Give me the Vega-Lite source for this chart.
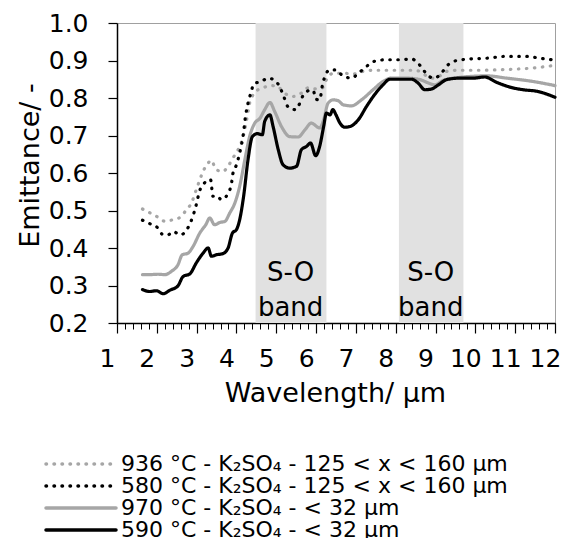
{
  "$schema": "https://vega.github.io/schema/vega-lite/v6.json",
  "autosize": "none",
  "width": 438,
  "height": 300,
  "padding": {"left": 117, "top": 23, "right": 10, "bottom": 215},
  "background": "white",
  "config": {
    "view": {"stroke": "#a0a0a0", "strokeWidth": 1},
    "font": "DejaVu Sans",
    "axis": {"grid": false, "domainColor": "#000", "tickColor": "#000", "labelColor": "#000", "titleColor": "#000", "labelFont": "DejaVu Sans", "titleFont": "DejaVu Sans", "titleFontWeight": "normal"},
    "legend": {"labelFont": "DejaVu Sans"}
  },
  "datasets": {
    "spectra": [
      {"s": "936 °C - K₂SO₄ - 125 < x < 160 µm", "x": 1.64, "y": 0.504},
      {"s": "936 °C - K₂SO₄ - 125 < x < 160 µm", "x": 1.84, "y": 0.493},
      {"s": "936 °C - K₂SO₄ - 125 < x < 160 µm", "x": 2.03, "y": 0.482},
      {"s": "936 °C - K₂SO₄ - 125 < x < 160 µm", "x": 2.21, "y": 0.471},
      {"s": "936 °C - K₂SO₄ - 125 < x < 160 µm", "x": 2.39, "y": 0.475},
      {"s": "936 °C - K₂SO₄ - 125 < x < 160 µm", "x": 2.59, "y": 0.482},
      {"s": "936 °C - K₂SO₄ - 125 < x < 160 µm", "x": 2.73, "y": 0.5},
      {"s": "936 °C - K₂SO₄ - 125 < x < 160 µm", "x": 2.87, "y": 0.52},
      {"s": "936 °C - K₂SO₄ - 125 < x < 160 µm", "x": 2.99, "y": 0.555},
      {"s": "936 °C - K₂SO₄ - 125 < x < 160 µm", "x": 3.08, "y": 0.582},
      {"s": "936 °C - K₂SO₄ - 125 < x < 160 µm", "x": 3.16, "y": 0.604},
      {"s": "936 °C - K₂SO₄ - 125 < x < 160 µm", "x": 3.26, "y": 0.622},
      {"s": "936 °C - K₂SO₄ - 125 < x < 160 µm", "x": 3.37, "y": 0.634},
      {"s": "936 °C - K₂SO₄ - 125 < x < 160 µm", "x": 3.48, "y": 0.61},
      {"s": "936 °C - K₂SO₄ - 125 < x < 160 µm", "x": 3.65, "y": 0.604},
      {"s": "936 °C - K₂SO₄ - 125 < x < 160 µm", "x": 3.79, "y": 0.618},
      {"s": "936 °C - K₂SO₄ - 125 < x < 160 µm", "x": 3.91, "y": 0.64},
      {"s": "936 °C - K₂SO₄ - 125 < x < 160 µm", "x": 4.04, "y": 0.662},
      {"s": "936 °C - K₂SO₄ - 125 < x < 160 µm", "x": 4.17, "y": 0.698},
      {"s": "936 °C - K₂SO₄ - 125 < x < 160 µm", "x": 4.25, "y": 0.738},
      {"s": "936 °C - K₂SO₄ - 125 < x < 160 µm", "x": 4.33, "y": 0.786},
      {"s": "936 °C - K₂SO₄ - 125 < x < 160 µm", "x": 4.42, "y": 0.809},
      {"s": "936 °C - K₂SO₄ - 125 < x < 160 µm", "x": 4.54, "y": 0.822},
      {"s": "936 °C - K₂SO₄ - 125 < x < 160 µm", "x": 4.71, "y": 0.829},
      {"s": "936 °C - K₂SO₄ - 125 < x < 160 µm", "x": 4.88, "y": 0.833},
      {"s": "936 °C - K₂SO₄ - 125 < x < 160 µm", "x": 5.05, "y": 0.829},
      {"s": "936 °C - K₂SO₄ - 125 < x < 160 µm", "x": 5.21, "y": 0.813},
      {"s": "936 °C - K₂SO₄ - 125 < x < 160 µm", "x": 5.42, "y": 0.804},
      {"s": "936 °C - K₂SO₄ - 125 < x < 160 µm", "x": 5.63, "y": 0.813},
      {"s": "936 °C - K₂SO₄ - 125 < x < 160 µm", "x": 5.8, "y": 0.827},
      {"s": "936 °C - K₂SO₄ - 125 < x < 160 µm", "x": 6.01, "y": 0.824},
      {"s": "936 °C - K₂SO₄ - 125 < x < 160 µm", "x": 6.16, "y": 0.827},
      {"s": "936 °C - K₂SO₄ - 125 < x < 160 µm", "x": 6.26, "y": 0.849},
      {"s": "936 °C - K₂SO₄ - 125 < x < 160 µm", "x": 6.43, "y": 0.866},
      {"s": "936 °C - K₂SO₄ - 125 < x < 160 µm", "x": 6.68, "y": 0.866},
      {"s": "936 °C - K₂SO₄ - 125 < x < 160 µm", "x": 6.93, "y": 0.864},
      {"s": "936 °C - K₂SO₄ - 125 < x < 160 µm", "x": 7.18, "y": 0.871},
      {"s": "936 °C - K₂SO₄ - 125 < x < 160 µm", "x": 7.43, "y": 0.874},
      {"s": "936 °C - K₂SO₄ - 125 < x < 160 µm", "x": 7.77, "y": 0.874},
      {"s": "936 °C - K₂SO₄ - 125 < x < 160 µm", "x": 8.1, "y": 0.874},
      {"s": "936 °C - K₂SO₄ - 125 < x < 160 µm", "x": 8.44, "y": 0.874},
      {"s": "936 °C - K₂SO₄ - 125 < x < 160 µm", "x": 8.61, "y": 0.871},
      {"s": "936 °C - K₂SO₄ - 125 < x < 160 µm", "x": 8.77, "y": 0.859},
      {"s": "936 °C - K₂SO₄ - 125 < x < 160 µm", "x": 8.94, "y": 0.853},
      {"s": "936 °C - K₂SO₄ - 125 < x < 160 µm", "x": 9.11, "y": 0.859},
      {"s": "936 °C - K₂SO₄ - 125 < x < 160 µm", "x": 9.28, "y": 0.871},
      {"s": "936 °C - K₂SO₄ - 125 < x < 160 µm", "x": 9.61, "y": 0.874},
      {"s": "936 °C - K₂SO₄ - 125 < x < 160 µm", "x": 10.11, "y": 0.874},
      {"s": "936 °C - K₂SO₄ - 125 < x < 160 µm", "x": 10.78, "y": 0.876},
      {"s": "936 °C - K₂SO₄ - 125 < x < 160 µm", "x": 11.45, "y": 0.88},
      {"s": "936 °C - K₂SO₄ - 125 < x < 160 µm", "x": 12.0, "y": 0.887},

      {"s": "580 °C - K₂SO₄ - 125 < x < 160 µm", "x": 1.64, "y": 0.474},
      {"s": "580 °C - K₂SO₄ - 125 < x < 160 µm", "x": 1.82, "y": 0.465},
      {"s": "580 °C - K₂SO₄ - 125 < x < 160 µm", "x": 2.03, "y": 0.453},
      {"s": "580 °C - K₂SO₄ - 125 < x < 160 µm", "x": 2.16, "y": 0.435},
      {"s": "580 °C - K₂SO₄ - 125 < x < 160 µm", "x": 2.28, "y": 0.435},
      {"s": "580 °C - K₂SO₄ - 125 < x < 160 µm", "x": 2.41, "y": 0.444},
      {"s": "580 °C - K₂SO₄ - 125 < x < 160 µm", "x": 2.59, "y": 0.435},
      {"s": "580 °C - K₂SO₄ - 125 < x < 160 µm", "x": 2.76, "y": 0.45},
      {"s": "580 °C - K₂SO₄ - 125 < x < 160 µm", "x": 2.89, "y": 0.48},
      {"s": "580 °C - K₂SO₄ - 125 < x < 160 µm", "x": 2.98, "y": 0.511},
      {"s": "580 °C - K₂SO₄ - 125 < x < 160 µm", "x": 3.08, "y": 0.554},
      {"s": "580 °C - K₂SO₄ - 125 < x < 160 µm", "x": 3.18, "y": 0.571},
      {"s": "580 °C - K₂SO₄ - 125 < x < 160 µm", "x": 3.29, "y": 0.582},
      {"s": "580 °C - K₂SO₄ - 125 < x < 160 µm", "x": 3.35, "y": 0.582},
      {"s": "580 °C - K₂SO₄ - 125 < x < 160 µm", "x": 3.41, "y": 0.538},
      {"s": "580 °C - K₂SO₄ - 125 < x < 160 µm", "x": 3.51, "y": 0.539},
      {"s": "580 °C - K₂SO₄ - 125 < x < 160 µm", "x": 3.62, "y": 0.529},
      {"s": "580 °C - K₂SO₄ - 125 < x < 160 µm", "x": 3.73, "y": 0.536},
      {"s": "580 °C - K₂SO₄ - 125 < x < 160 µm", "x": 3.87, "y": 0.569},
      {"s": "580 °C - K₂SO₄ - 125 < x < 160 µm", "x": 3.91, "y": 0.598},
      {"s": "580 °C - K₂SO₄ - 125 < x < 160 µm", "x": 4.0, "y": 0.622},
      {"s": "580 °C - K₂SO₄ - 125 < x < 160 µm", "x": 4.08, "y": 0.653},
      {"s": "580 °C - K₂SO₄ - 125 < x < 160 µm", "x": 4.17, "y": 0.702},
      {"s": "580 °C - K₂SO₄ - 125 < x < 160 µm", "x": 4.23, "y": 0.753},
      {"s": "580 °C - K₂SO₄ - 125 < x < 160 µm", "x": 4.29, "y": 0.786},
      {"s": "580 °C - K₂SO₄ - 125 < x < 160 µm", "x": 4.38, "y": 0.82},
      {"s": "580 °C - K₂SO₄ - 125 < x < 160 µm", "x": 4.43, "y": 0.838},
      {"s": "580 °C - K₂SO₄ - 125 < x < 160 µm", "x": 4.63, "y": 0.844},
      {"s": "580 °C - K₂SO₄ - 125 < x < 160 µm", "x": 4.79, "y": 0.853},
      {"s": "580 °C - K₂SO₄ - 125 < x < 160 µm", "x": 4.96, "y": 0.847},
      {"s": "580 °C - K₂SO₄ - 125 < x < 160 µm", "x": 5.09, "y": 0.829},
      {"s": "580 °C - K₂SO₄ - 125 < x < 160 µm", "x": 5.17, "y": 0.809},
      {"s": "580 °C - K₂SO₄ - 125 < x < 160 µm", "x": 5.3, "y": 0.776},
      {"s": "580 °C - K₂SO₄ - 125 < x < 160 µm", "x": 5.49, "y": 0.769},
      {"s": "580 °C - K₂SO₄ - 125 < x < 160 µm", "x": 5.59, "y": 0.786},
      {"s": "580 °C - K₂SO₄ - 125 < x < 160 µm", "x": 5.67, "y": 0.806},
      {"s": "580 °C - K₂SO₄ - 125 < x < 160 µm", "x": 5.84, "y": 0.82},
      {"s": "580 °C - K₂SO₄ - 125 < x < 160 µm", "x": 5.93, "y": 0.82},
      {"s": "580 °C - K₂SO₄ - 125 < x < 160 µm", "x": 5.99, "y": 0.797},
      {"s": "580 °C - K₂SO₄ - 125 < x < 160 µm", "x": 6.09, "y": 0.795},
      {"s": "580 °C - K₂SO₄ - 125 < x < 160 µm", "x": 6.16, "y": 0.835},
      {"s": "580 °C - K₂SO₄ - 125 < x < 160 µm", "x": 6.24, "y": 0.862},
      {"s": "580 °C - K₂SO₄ - 125 < x < 160 µm", "x": 6.34, "y": 0.875},
      {"s": "580 °C - K₂SO₄ - 125 < x < 160 µm", "x": 6.5, "y": 0.875},
      {"s": "580 °C - K₂SO₄ - 125 < x < 160 µm", "x": 6.64, "y": 0.862},
      {"s": "580 °C - K₂SO₄ - 125 < x < 160 µm", "x": 6.89, "y": 0.853},
      {"s": "580 °C - K₂SO₄ - 125 < x < 160 µm", "x": 7.06, "y": 0.866},
      {"s": "580 °C - K₂SO₄ - 125 < x < 160 µm", "x": 7.22, "y": 0.88},
      {"s": "580 °C - K₂SO₄ - 125 < x < 160 µm", "x": 7.47, "y": 0.898},
      {"s": "580 °C - K₂SO₄ - 125 < x < 160 µm", "x": 7.77, "y": 0.902},
      {"s": "580 °C - K₂SO₄ - 125 < x < 160 µm", "x": 8.1, "y": 0.902},
      {"s": "580 °C - K₂SO₄ - 125 < x < 160 µm", "x": 8.4, "y": 0.904},
      {"s": "580 °C - K₂SO₄ - 125 < x < 160 µm", "x": 8.56, "y": 0.893},
      {"s": "580 °C - K₂SO₄ - 125 < x < 160 µm", "x": 8.69, "y": 0.875},
      {"s": "580 °C - K₂SO₄ - 125 < x < 160 µm", "x": 8.86, "y": 0.856},
      {"s": "580 °C - K₂SO₄ - 125 < x < 160 µm", "x": 8.98, "y": 0.853},
      {"s": "580 °C - K₂SO₄ - 125 < x < 160 µm", "x": 9.11, "y": 0.862},
      {"s": "580 °C - K₂SO₄ - 125 < x < 160 µm", "x": 9.32, "y": 0.889},
      {"s": "580 °C - K₂SO₄ - 125 < x < 160 µm", "x": 9.53, "y": 0.9},
      {"s": "580 °C - K₂SO₄ - 125 < x < 160 µm", "x": 9.86, "y": 0.904},
      {"s": "580 °C - K₂SO₄ - 125 < x < 160 µm", "x": 10.28, "y": 0.906},
      {"s": "580 °C - K₂SO₄ - 125 < x < 160 µm", "x": 10.78, "y": 0.911},
      {"s": "580 °C - K₂SO₄ - 125 < x < 160 µm", "x": 11.29, "y": 0.911},
      {"s": "580 °C - K₂SO₄ - 125 < x < 160 µm", "x": 11.62, "y": 0.906},
      {"s": "580 °C - K₂SO₄ - 125 < x < 160 µm", "x": 12.0, "y": 0.901},

      {"s": "970 °C - K₂SO₄ - < 32 µm", "x": 1.64, "y": 0.329},
      {"s": "970 °C - K₂SO₄ - < 32 µm", "x": 1.82, "y": 0.329},
      {"s": "970 °C - K₂SO₄ - < 32 µm", "x": 2.03, "y": 0.33},
      {"s": "970 °C - K₂SO₄ - < 32 µm", "x": 2.2, "y": 0.329},
      {"s": "970 °C - K₂SO₄ - < 32 µm", "x": 2.37, "y": 0.338},
      {"s": "970 °C - K₂SO₄ - < 32 µm", "x": 2.53, "y": 0.355},
      {"s": "970 °C - K₂SO₄ - < 32 µm", "x": 2.64, "y": 0.382},
      {"s": "970 °C - K₂SO₄ - < 32 µm", "x": 2.78, "y": 0.386},
      {"s": "970 °C - K₂SO₄ - < 32 µm", "x": 2.91, "y": 0.404},
      {"s": "970 °C - K₂SO₄ - < 32 µm", "x": 3.08, "y": 0.44},
      {"s": "970 °C - K₂SO₄ - < 32 µm", "x": 3.23, "y": 0.462},
      {"s": "970 °C - K₂SO₄ - < 32 µm", "x": 3.33, "y": 0.48},
      {"s": "970 °C - K₂SO₄ - < 32 µm", "x": 3.45, "y": 0.462},
      {"s": "970 °C - K₂SO₄ - < 32 µm", "x": 3.58, "y": 0.468},
      {"s": "970 °C - K₂SO₄ - < 32 µm", "x": 3.71, "y": 0.471},
      {"s": "970 °C - K₂SO₄ - < 32 µm", "x": 3.83, "y": 0.493},
      {"s": "970 °C - K₂SO₄ - < 32 µm", "x": 3.96, "y": 0.52},
      {"s": "970 °C - K₂SO₄ - < 32 µm", "x": 4.08, "y": 0.564},
      {"s": "970 °C - K₂SO₄ - < 32 µm", "x": 4.21, "y": 0.635},
      {"s": "970 °C - K₂SO₄ - < 32 µm", "x": 4.33, "y": 0.697},
      {"s": "970 °C - K₂SO₄ - < 32 µm", "x": 4.46, "y": 0.733},
      {"s": "970 °C - K₂SO₄ - < 32 µm", "x": 4.59, "y": 0.746},
      {"s": "970 °C - K₂SO₄ - < 32 µm", "x": 4.71, "y": 0.769},
      {"s": "970 °C - K₂SO₄ - < 32 µm", "x": 4.84, "y": 0.788},
      {"s": "970 °C - K₂SO₄ - < 32 µm", "x": 4.96, "y": 0.764},
      {"s": "970 °C - K₂SO₄ - < 32 µm", "x": 5.13, "y": 0.724},
      {"s": "970 °C - K₂SO₄ - < 32 µm", "x": 5.34, "y": 0.697},
      {"s": "970 °C - K₂SO₄ - < 32 µm", "x": 5.55, "y": 0.696},
      {"s": "970 °C - K₂SO₄ - < 32 µm", "x": 5.72, "y": 0.715},
      {"s": "970 °C - K₂SO₄ - < 32 µm", "x": 5.88, "y": 0.733},
      {"s": "970 °C - K₂SO₄ - < 32 µm", "x": 6.09, "y": 0.72},
      {"s": "970 °C - K₂SO₄ - < 32 µm", "x": 6.19, "y": 0.742},
      {"s": "970 °C - K₂SO₄ - < 32 µm", "x": 6.3, "y": 0.786},
      {"s": "970 °C - K₂SO₄ - < 32 µm", "x": 6.43, "y": 0.795},
      {"s": "970 °C - K₂SO₄ - < 32 µm", "x": 6.55, "y": 0.793},
      {"s": "970 °C - K₂SO₄ - < 32 µm", "x": 6.68, "y": 0.782},
      {"s": "970 °C - K₂SO₄ - < 32 µm", "x": 6.89, "y": 0.779},
      {"s": "970 °C - K₂SO₄ - < 32 µm", "x": 7.14, "y": 0.795},
      {"s": "970 °C - K₂SO₄ - < 32 µm", "x": 7.43, "y": 0.822},
      {"s": "970 °C - K₂SO₄ - < 32 µm", "x": 7.68, "y": 0.844},
      {"s": "970 °C - K₂SO₄ - < 32 µm", "x": 7.89, "y": 0.853},
      {"s": "970 °C - K₂SO₄ - < 32 µm", "x": 8.27, "y": 0.853},
      {"s": "970 °C - K₂SO₄ - < 32 µm", "x": 8.61, "y": 0.849},
      {"s": "970 °C - K₂SO₄ - < 32 µm", "x": 8.82, "y": 0.84},
      {"s": "970 °C - K₂SO₄ - < 32 µm", "x": 8.98, "y": 0.835},
      {"s": "970 °C - K₂SO₄ - < 32 µm", "x": 9.19, "y": 0.847},
      {"s": "970 °C - K₂SO₄ - < 32 µm", "x": 9.61, "y": 0.855},
      {"s": "970 °C - K₂SO₄ - < 32 µm", "x": 10.28, "y": 0.859},
      {"s": "970 °C - K₂SO₄ - < 32 µm", "x": 10.78, "y": 0.853},
      {"s": "970 °C - K₂SO₄ - < 32 µm", "x": 11.45, "y": 0.844},
      {"s": "970 °C - K₂SO₄ - < 32 µm", "x": 12.0, "y": 0.833},

      {"s": "590 °C - K₂SO₄ - < 32 µm", "x": 1.64, "y": 0.289},
      {"s": "590 °C - K₂SO₄ - < 32 µm", "x": 1.82, "y": 0.284},
      {"s": "590 °C - K₂SO₄ - < 32 µm", "x": 1.99, "y": 0.286},
      {"s": "590 °C - K₂SO₄ - < 32 µm", "x": 2.16, "y": 0.278},
      {"s": "590 °C - K₂SO₄ - < 32 µm", "x": 2.32, "y": 0.287},
      {"s": "590 °C - K₂SO₄ - < 32 µm", "x": 2.53, "y": 0.299},
      {"s": "590 °C - K₂SO₄ - < 32 µm", "x": 2.66, "y": 0.324},
      {"s": "590 °C - K₂SO₄ - < 32 µm", "x": 2.83, "y": 0.331},
      {"s": "590 °C - K₂SO₄ - < 32 µm", "x": 2.99, "y": 0.36},
      {"s": "590 °C - K₂SO₄ - < 32 µm", "x": 3.16, "y": 0.386},
      {"s": "590 °C - K₂SO₄ - < 32 µm", "x": 3.29, "y": 0.4},
      {"s": "590 °C - K₂SO₄ - < 32 µm", "x": 3.37, "y": 0.378},
      {"s": "590 °C - K₂SO₄ - < 32 µm", "x": 3.5, "y": 0.382},
      {"s": "590 °C - K₂SO₄ - < 32 µm", "x": 3.66, "y": 0.385},
      {"s": "590 °C - K₂SO₄ - < 32 µm", "x": 3.79, "y": 0.4},
      {"s": "590 °C - K₂SO₄ - < 32 µm", "x": 3.9, "y": 0.44},
      {"s": "590 °C - K₂SO₄ - < 32 µm", "x": 4.0, "y": 0.449},
      {"s": "590 °C - K₂SO₄ - < 32 µm", "x": 4.08, "y": 0.475},
      {"s": "590 °C - K₂SO₄ - < 32 µm", "x": 4.18, "y": 0.538},
      {"s": "590 °C - K₂SO₄ - < 32 µm", "x": 4.29, "y": 0.635},
      {"s": "590 °C - K₂SO₄ - < 32 µm", "x": 4.4, "y": 0.697},
      {"s": "590 °C - K₂SO₄ - < 32 µm", "x": 4.52, "y": 0.705},
      {"s": "590 °C - K₂SO₄ - < 32 µm", "x": 4.65, "y": 0.702},
      {"s": "590 °C - K₂SO₄ - < 32 µm", "x": 4.71, "y": 0.738},
      {"s": "590 °C - K₂SO₄ - < 32 µm", "x": 4.84, "y": 0.755},
      {"s": "590 °C - K₂SO₄ - < 32 µm", "x": 4.92, "y": 0.724},
      {"s": "590 °C - K₂SO₄ - < 32 µm", "x": 5.05, "y": 0.662},
      {"s": "590 °C - K₂SO₄ - < 32 µm", "x": 5.17, "y": 0.622},
      {"s": "590 °C - K₂SO₄ - < 32 µm", "x": 5.34, "y": 0.613},
      {"s": "590 °C - K₂SO₄ - < 32 µm", "x": 5.51, "y": 0.618},
      {"s": "590 °C - K₂SO₄ - < 32 µm", "x": 5.63, "y": 0.662},
      {"s": "590 °C - K₂SO₄ - < 32 µm", "x": 5.76, "y": 0.671},
      {"s": "590 °C - K₂SO₄ - < 32 µm", "x": 5.86, "y": 0.68},
      {"s": "590 °C - K₂SO₄ - < 32 µm", "x": 5.99, "y": 0.646},
      {"s": "590 °C - K₂SO₄ - < 32 µm", "x": 6.09, "y": 0.671},
      {"s": "590 °C - K₂SO₄ - < 32 µm", "x": 6.19, "y": 0.724},
      {"s": "590 °C - K₂SO₄ - < 32 µm", "x": 6.26, "y": 0.76},
      {"s": "590 °C - K₂SO₄ - < 32 µm", "x": 6.35, "y": 0.755},
      {"s": "590 °C - K₂SO₄ - < 32 µm", "x": 6.42, "y": 0.769},
      {"s": "590 °C - K₂SO₄ - < 32 µm", "x": 6.5, "y": 0.755},
      {"s": "590 °C - K₂SO₄ - < 32 µm", "x": 6.6, "y": 0.733},
      {"s": "590 °C - K₂SO₄ - < 32 µm", "x": 6.72, "y": 0.722},
      {"s": "590 °C - K₂SO₄ - < 32 µm", "x": 6.85, "y": 0.724},
      {"s": "590 °C - K₂SO₄ - < 32 µm", "x": 7.06, "y": 0.742},
      {"s": "590 °C - K₂SO₄ - < 32 µm", "x": 7.27, "y": 0.778},
      {"s": "590 °C - K₂SO₄ - < 32 µm", "x": 7.47, "y": 0.809},
      {"s": "590 °C - K₂SO₄ - < 32 µm", "x": 7.68, "y": 0.835},
      {"s": "590 °C - K₂SO₄ - < 32 µm", "x": 7.85, "y": 0.85},
      {"s": "590 °C - K₂SO₄ - < 32 µm", "x": 8.1, "y": 0.85},
      {"s": "590 °C - K₂SO₄ - < 32 µm", "x": 8.4, "y": 0.85},
      {"s": "590 °C - K₂SO₄ - < 32 µm", "x": 8.56, "y": 0.84},
      {"s": "590 °C - K₂SO₄ - < 32 µm", "x": 8.73, "y": 0.822},
      {"s": "590 °C - K₂SO₄ - < 32 µm", "x": 8.9, "y": 0.824},
      {"s": "590 °C - K₂SO₄ - < 32 µm", "x": 9.07, "y": 0.835},
      {"s": "590 °C - K₂SO₄ - < 32 µm", "x": 9.28, "y": 0.849},
      {"s": "590 °C - K₂SO₄ - < 32 µm", "x": 9.61, "y": 0.853},
      {"s": "590 °C - K₂SO₄ - < 32 µm", "x": 9.95, "y": 0.853},
      {"s": "590 °C - K₂SO₄ - < 32 µm", "x": 10.24, "y": 0.856},
      {"s": "590 °C - K₂SO₄ - < 32 µm", "x": 10.53, "y": 0.842},
      {"s": "590 °C - K₂SO₄ - < 32 µm", "x": 10.87, "y": 0.829},
      {"s": "590 °C - K₂SO₄ - < 32 µm", "x": 11.2, "y": 0.822},
      {"s": "590 °C - K₂SO₄ - < 32 µm", "x": 11.54, "y": 0.818},
      {"s": "590 °C - K₂SO₄ - < 32 µm", "x": 12.0, "y": 0.802}
    ],
    "bands": [
      {"start": 4.48, "end": 6.26},
      {"start": 8.08, "end": 9.7}
    ],
    "labels": [
      {"x": 5.36, "y": 0.334, "t": "S-O"},
      {"x": 5.36, "y": 0.24, "t": "band"},
      {"x": 8.88, "y": 0.334, "t": "S-O"},
      {"x": 8.88, "y": 0.24, "t": "band"}
    ]
  },
  "layer": [
    {
      "data": {"name": "bands"},
      "mark": {"type": "rect", "color": "#e1e1e1"},
      "encoding": {
        "x": {"field": "start", "type": "quantitative", "scale": {"domain": [1, 12], "nice": false, "zero": false},
              "axis": {"orient": "bottom", "values": [1,2,3,4,5,6,7,8,9,10,11,12], "format": "d", "tickSize": 10, "tickWidth": 1.2, "domainWidth": 1.5, "labelFontSize": 25, "labelPadding": 13, "labelOffset": -10, "labelOverlap": false, "labelFlush": false, "title": "Wavelength/ µm", "titleFontSize": 27, "titleX": 218, "titleY": 70, "titleBaseline": "middle", "titleAnchor": null}},
        "x2": {"field": "end"}
      }
    },
    {
      "data": {"name": "labels"},
      "mark": {"type": "text", "fontSize": 26, "baseline": "middle", "align": "center", "color": "#000"},
      "encoding": {
        "x": {"field": "x", "type": "quantitative",
              "axis": {"orient": "bottom", "values": [1,1.2,1.4,1.6,1.8,2,2.2,2.4,2.6,2.8,3,3.2,3.4,3.6,3.8,4,4.2,4.4,4.6,4.8,5,5.2,5.4,5.6,5.8,6,6.2,6.4,6.6,6.8,7,7.2,7.4,7.6,7.8,8,8.2,8.4,8.6,8.8,9,9.2,9.4,9.6,9.8,10,10.2,10.4,10.6,10.8,11,11.2,11.4,11.6,11.8,12], "labels": false, "domain": false, "tickSize": 6, "tickWidth": 1, "title": null}},
        "y": {"field": "y", "type": "quantitative", "scale": {"domain": [0.2, 1.0], "nice": false, "zero": false},
              "axis": {"values": [0.2,0.3,0.4,0.5,0.6,0.7,0.8,0.9,1.0], "format": ".1f", "tickSize": 9, "tickWidth": 1.2, "domainWidth": 1.5, "labelFontSize": 25, "labelPadding": 20, "labelOverlap": false, "labelFlush": false, "title": "Emittance/ -", "titleFontSize": 27, "titleAngle": -90, "titleX": -87, "titleY": 142, "titleBaseline": "middle", "titleAlign": "center", "titleAnchor": null}},
        "text": {"field": "t"}
      }
    },
    {
      "data": {"name": "spectra"},
      "mark": {"type": "line", "strokeWidth": 3.2, "strokeCap": "round", "strokeJoin": "round", "interpolate": "monotone"},
      "encoding": {
        "x": {"field": "x", "type": "quantitative", "axis": null},
        "y": {"field": "y", "type": "quantitative",
              "axis": {"values": [0.2,0.3,0.4,0.5,0.6,0.7,0.8,0.9,1.0], "format": ".1f", "tickSize": 9, "tickWidth": 1.2, "domainWidth": 1.5, "labelFontSize": 25, "labelPadding": 20, "labelOverlap": false, "labelFlush": false, "title": "Emittance/ -", "titleFontSize": 27, "titleAngle": -90, "titleX": -87, "titleY": 142, "titleBaseline": "middle", "titleAlign": "center", "titleAnchor": null}},
        "color": {"field": "s", "type": "nominal",
          "scale": {"domain": ["936 °C - K₂SO₄ - 125 < x < 160 µm", "580 °C - K₂SO₄ - 125 < x < 160 µm", "970 °C - K₂SO₄ - < 32 µm", "590 °C - K₂SO₄ - < 32 µm"],
                    "range": ["#a6a6a6", "#000000", "#a6a6a6", "#000000"]},
          "legend": {"title": null, "orient": "none", "legendX": -47, "legendY": 430, "direction": "vertical", "symbolType": "M-4.375,0H4.375", "symbolSize": 256, "symbolStrokeWidth": 3.5, "labelFontSize": 22, "labelLimit": 0, "labelOffset": 29, "rowPadding": 0, "padding": 0, "labelColor": "#000",
                     "encoding": {"symbols": {"strokeCap": {"value": "round"}, "fill": {"value": "transparent"}}}}},
        "strokeDash": {"field": "s", "type": "nominal",
          "scale": {"domain": ["936 °C - K₂SO₄ - 125 < x < 160 µm", "580 °C - K₂SO₄ - 125 < x < 160 µm", "970 °C - K₂SO₄ - < 32 µm", "590 °C - K₂SO₄ - < 32 µm"],
                    "range": [[0.5, 7.5], [0.5, 7.5], [1, 0], [1, 0]]},
          "legend": null}
      }
    }
  ],
  "resolve": {"axis": {"x": "independent"}}
}
